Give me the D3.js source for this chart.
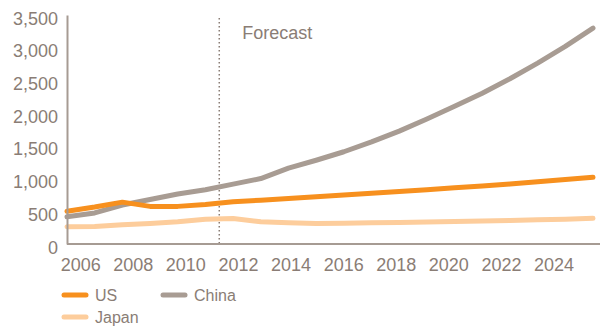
<!DOCTYPE html>
<html lang="en">
<head>
  <meta charset="UTF-8">
  <title>US, China and Japan forecast</title>
  <script src="https://d3js.org/d3.v7.min.js"></script>
  <style>
    body { margin: 0; background: #fff; font-family: "Liberation Sans", Arial, sans-serif; }
    .axis text { fill: #8a7d75; font-size: 18px; }
    .legend text { fill: #8a7d75; font-size: 16px; }
  </style>
</head>
<body>
<svg width="602" height="328"></svg>

<script>
  const years = d3.range(2006, 2026);
  const us    = [500, 565, 640, 575, 575, 605, 645, 670, 697, 723, 750, 776, 803, 830, 858, 887, 917, 950, 985, 1020];
  const china = [415, 475, 595, 680, 765, 830, 915, 1000, 1160, 1280, 1410, 1560, 1725, 1910, 2105, 2305, 2525, 2765, 3020, 3300];
  const japan = [265, 268, 295, 315, 340, 380, 390, 340, 325, 315, 318, 325, 330, 338, 345, 352, 360, 370, 380, 392];
  const yTicks = [0, 500, 1000, 1500, 2000, 2500, 3000, 3500];
  const xTicks = [2006, 2008, 2010, 2012, 2014, 2016, 2018, 2020, 2022, 2024];
  const forecastFrom = 2011.5;

  const series = [
    { name: "US",    values: us,    color: "#f7901e" },
    { name: "China", values: china, color: "#a89c93" },
    { name: "Japan", values: japan, color: "#fdcd9c" }
  ];

  const svg = d3.select("svg"),
        plotLeft = 67, plotRight = 593, plotTop = 15, plotBottom = 244;

  // data sit on year points, labels sit on the year bands
  const x = d3.scaleLinear().domain(d3.extent(years)).range([plotLeft, plotRight]);
  const xLab = d3.scaleLinear().domain([2005.5, 2025.5]).range([plotLeft, plotRight]);
  const y = d3.scaleLinear().domain([0, 3500]).range([plotBottom, plotTop]);

  // forecast divider
  svg.append("line")
    .attr("x1", x(forecastFrom)).attr("x2", x(forecastFrom))
    .attr("y1", 18).attr("y2", plotBottom)
    .attr("stroke", "#8a7d75")
    .attr("stroke-width", 1.5)
    .attr("stroke-dasharray", "1.5 2.5");

  svg.append("text")
    .attr("x", x(forecastFrom) + 23)
    .attr("y", 39)
    .attr("fill", "#8a7d75")
    .style("font-size", "18px")
    .text("Forecast");

  // lines
  const line = d3.line()
    .x((d, i) => x(years[i]))
    .y(d => y(d));

  svg.append("g")
    .selectAll("path")
    .data([series[2], series[1], series[0]])
    .join("path")
      .attr("d", d => line(d.values))
      .attr("fill", "none")
      .attr("stroke", d => d.color)
      .attr("stroke-width", 5)
      .attr("stroke-linecap", "round")
      .attr("stroke-linejoin", "round");

  // y axis
  const yAxis = svg.append("g")
    .attr("class", "axis")
    .attr("transform", `translate(${plotLeft},0)`)
    .call(d3.axisLeft(y).tickValues(yTicks).tickSize(0).tickPadding(9).tickFormat(d3.format(",")));
  yAxis.select(".domain").attr("stroke", "#a69b93").attr("stroke-width", 2);
  yAxis.selectAll("text").attr("dy", "0.5em");

  // x axis
  const xAxis = svg.append("g")
    .attr("class", "axis")
    .attr("transform", `translate(0,${plotBottom})`)
    .call(d3.axisBottom(xLab).tickValues(xTicks).tickSize(0).tickPadding(14).tickFormat(d3.format("d")));
  xAxis.select(".domain").remove();
  svg.append("line")
    .attr("x1", plotLeft).attr("x2", 600)
    .attr("y1", plotBottom).attr("y2", plotBottom)
    .attr("stroke", "#a69b93")
    .attr("stroke-width", 2);

  // legend
  const legendPos = [[64, 295], [163, 295], [64, 317]];
  const legend = svg.append("g")
    .attr("class", "legend")
    .selectAll("g")
    .data(series)
    .join("g")
      .attr("transform", (d, i) => `translate(${legendPos[i][0]},${legendPos[i][1]})`);

  legend.append("line")
    .attr("x1", 0).attr("x2", 22)
    .attr("stroke", d => d.color)
    .attr("stroke-width", 5)
    .attr("stroke-linecap", "round");

  legend.append("text")
    .attr("x", 31)
    .attr("dy", "0.36em")
    .text(d => d.name);
</script>
</body>
</html>
